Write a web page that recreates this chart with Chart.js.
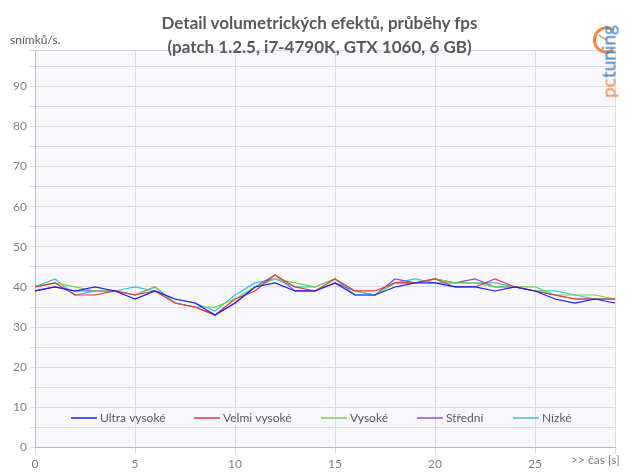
<!DOCTYPE html>
<html>
<head>
<meta charset="utf-8">
<script src="https://cdn.jsdelivr.net/npm/chart.js@4/dist/chart.umd.min.js"></script>
<style>
  html, body { margin: 0; padding: 0; background: #fff; }
  #wrap { position: relative; width: 639px; height: 476px; font-family: Lato, "Open Sans", sans-serif; }
  #c { position: absolute; left: 0; top: 0; }
  .title { position: absolute; left: 0; width: 639px; text-align: center; color: #595959;
           font-weight: bold; font-size: 17px; }
  .ylab { position: absolute; left: 10px; top: 32px; font-size: 12px; color: #595959; }
  .xlab { position: absolute; left: 571px; top: 452px; font-size: 12px; color: #808080; }
  .logo { position: absolute; left: 568px; top: 50px; width: 80px; text-align: center;
          transform: rotate(-90deg); transform-origin: center;
          font-size: 19px; font-weight: normal; }
  .logo .pc { color: #f08a4b; } .logo .tu { color: #3f7fc1; }
  #clock { position: absolute; left: 591px; top: 25px; }
</style>
</head>
<body>
<div id="wrap">
  <canvas id="c" width="639" height="476"></canvas>
  <div class="title" style="top:12px">Detail volumetrických efektů, průběhy fps</div>
  <div class="title" style="top:36px">(patch 1.2.5, i7-4790K, GTX 1060, 6 GB)</div>
  <div class="ylab">snímků/s.</div>
  <div class="xlab">&gt;&gt; čas [s]</div>
  <svg id="clock" width="30" height="30" viewBox="0 0 30 30">
    <path d="M22 5 A12 12 0 1 0 22 25" fill="none" stroke="#f08a4b" stroke-width="3"/>
    <line x1="8" y1="10" x2="15" y2="15" stroke="#f08a4b" stroke-width="1.5"/>
  </svg>
  <div class="logo"><span class="pc">pc</span><span class="tu">tuning</span></div>
</div>
<script>
// seconds 0..29
const SECONDS = [0,1,2,3,4,5,6,7,8,9,10,11,12,13,14,15,16,17,18,19,20,21,22,23,24,25,26,27,28,29];

const ULTRA   = [39,40,39,40,39,37,39,37,36,33,36,40,41,39,39,41,38,38,40,41,41,40,40,39,40,39,37,36,37,36];
const VELMI   = [40,41,38,38,39,38,39,36,35,33,37,39,43,40,39,42,39,39,41,41,42,40,40,42,40,39,38,37,37,37];
const VYSOKE  = [40,41,40,39,39,38,40,36,35,35,37,40,42,41,40,42,39,38,41,41,42,41,41,40,40,40,38,38,38,37];
const STREDNI = [39,40,39,39,39,38,40,36,35,33,36,40,43,39,39,41,39,38,42,41,42,41,42,40,40,39,38,37,37,37];
const NIZKE   = [40,42,38,39,39,40,39,37,36,34,38,41,42,40,40,42,38,38,41,42,41,41,41,41,40,39,39,38,37,37];

const SERIES = [
  { label: "Ultra vysoké",  data: ULTRA,   color: "#1a1aff" },
  { label: "Velmi vysoké",  data: VELMI,   color: "#e8383d" },
  { label: "Vysoké",        data: VYSOKE,  color: "#72d34a" },
  { label: "Střední",       data: STREDNI, color: "#8a52c6" },
  { label: "Nízké",         data: NIZKE,   color: "#33c3e6" },
];

const GRID = "#dcdcdc";
const TICK = "#808080";

// plot background + in-plot legend at the bottom
const plotDecor = {
  id: "plotDecor",
  beforeDraw(chart) {
    const { ctx, chartArea: a } = chart;
    ctx.save();
    ctx.fillStyle = "#f8f8fc";
    ctx.fillRect(a.left, a.top, a.right - a.left, a.bottom - a.top);
    ctx.restore();
  },
  afterDraw(chart) {
    const { ctx } = chart;
    const y = 418;
    const xs = [71, 194, 321, 417, 513];
    ctx.save();
    ctx.font = '12px Lato, "Open Sans", sans-serif';
    ctx.textBaseline = "middle";
    SERIES.forEach((s, i) => {
      ctx.strokeStyle = s.color;
      ctx.lineWidth = 1.5;
      ctx.beginPath();
      ctx.moveTo(xs[i], y);
      ctx.lineTo(xs[i] + 26, y);
      ctx.stroke();
      ctx.fillStyle = "#595959";
      ctx.fillText(s.label, xs[i] + 29, y);
    });
    ctx.restore();
  },
};

new Chart(document.getElementById("c"), {
  type: "line",
  data: {
    datasets: SERIES.map(s => ({
      label: s.label,
      data: s.data.map((v, i) => ({ x: SECONDS[i], y: v })),
      borderColor: s.color,
      backgroundColor: s.color,
      borderWidth: 1.2,
      pointRadius: 0,
      tension: 0,
    })),
  },
  options: {
    responsive: false, animation: false,
    layout: { padding: { top: 50, right: 24, left: 4, bottom: 2 } },
    plugins: { legend: { display: false }, tooltip: { enabled: false } },
    scales: {
      x: {
        type: "linear", min: 0, max: 29,
        ticks: { stepSize: 5, color: TICK, font: { size: 12, family: "Lato" },
                 callback: v => (v % 5 === 0 ? v : "") },
        grid: { color: GRID, drawTicks: true, tickLength: 6 },
        border: { color: "#bbbbbb" },
      },
      y: {
        min: 0, max: 99,
        afterFit: s => { s.width = 31; },
        ticks: { stepSize: 5, color: TICK, font: { size: 12, family: "Lato" },
                 callback: v => (v % 10 === 0 ? v : "") },
        grid: { color: GRID, tickLength: 5 },
        border: { color: "#bbbbbb" },
      },
    },
  },
  plugins: [plotDecor],
});
</script>
</body>
</html>
